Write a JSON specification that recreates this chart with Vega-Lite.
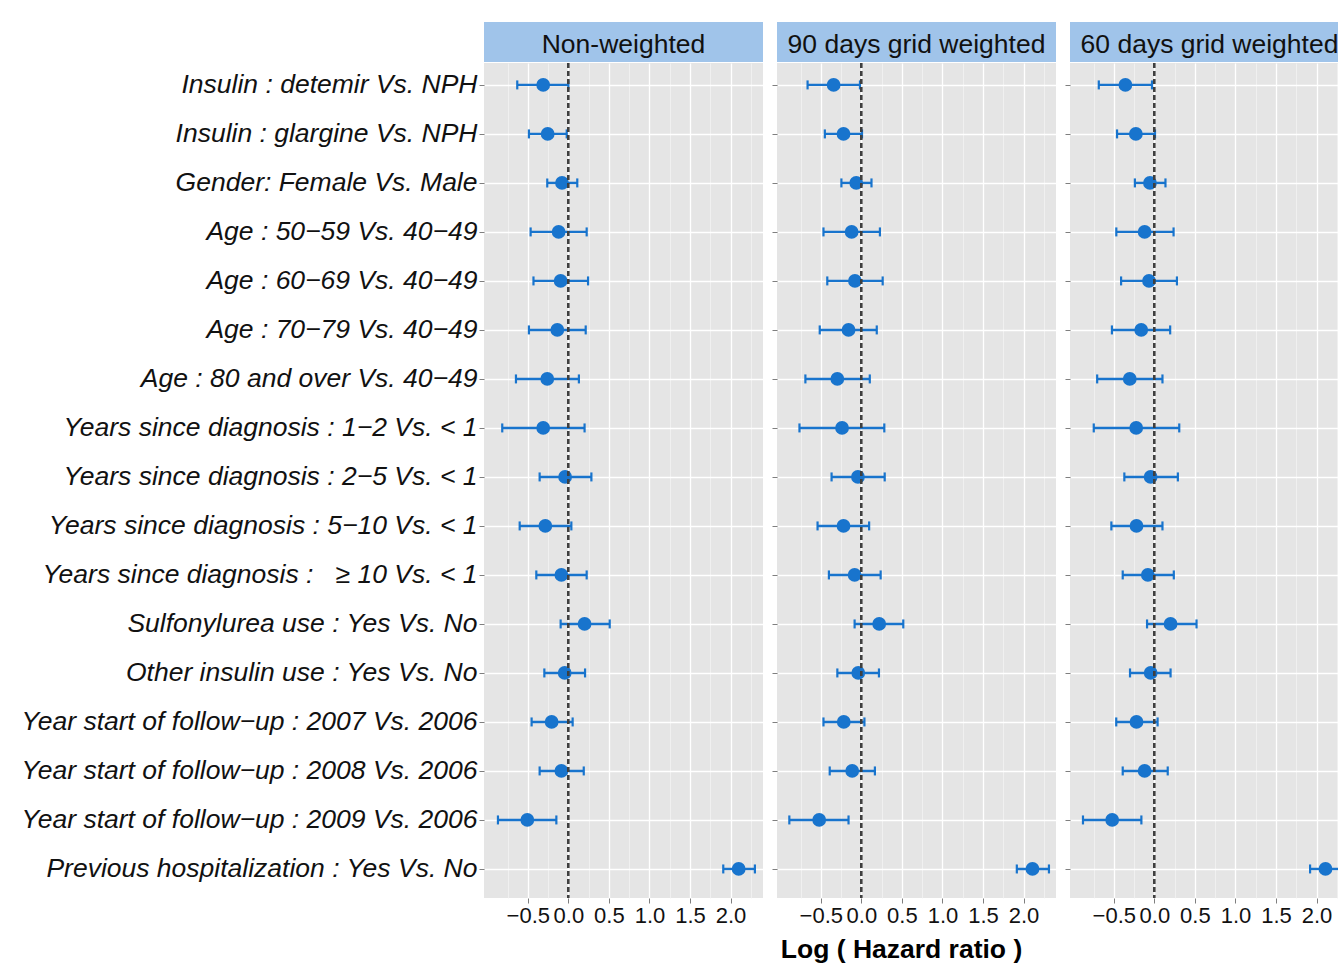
{
  "$schema": "https://vega.github.io/schema/vega-lite/v6.json",
  "padding": {"left": 21, "top": 22, "right": 0, "bottom": 0},
  "background": "#FFFFFF",
  "config": {"view": {"fill": "#E5E5E5", "stroke": null}},
  "datasets": {
    "panels": [{"panel": "Non-weighted"}, {"panel": "90 days grid weighted"}, {"panel": "60 days grid weighted"}],
    "est": [
      {"panel": "Non-weighted", "label": "Insulin : detemir Vs. NPH", "est": -0.31, "lo": -0.63, "hi": 0.0},
      {"panel": "Non-weighted", "label": "Insulin : glargine Vs. NPH", "est": -0.255, "lo": -0.486, "hi": -0.02},
      {"panel": "Non-weighted", "label": "Gender: Female Vs. Male", "est": -0.078, "lo": -0.26, "hi": 0.11},
      {"panel": "Non-weighted", "label": "Age : 50−59 Vs. 40−49", "est": -0.12, "lo": -0.465, "hi": 0.226},
      {"panel": "Non-weighted", "label": "Age : 60−69 Vs. 40−49", "est": -0.095, "lo": -0.43, "hi": 0.243},
      {"panel": "Non-weighted", "label": "Age : 70−79 Vs. 40−49", "est": -0.136, "lo": -0.486, "hi": 0.214},
      {"panel": "Non-weighted", "label": "Age : 80 and over Vs. 40−49", "est": -0.26, "lo": -0.646, "hi": 0.13},
      {"panel": "Non-weighted", "label": "Years since diagnosis : 1−2 Vs. < 1", "est": -0.31, "lo": -0.815, "hi": 0.2},
      {"panel": "Non-weighted", "label": "Years since diagnosis : 2−5 Vs. < 1", "est": -0.04, "lo": -0.354, "hi": 0.284},
      {"panel": "Non-weighted", "label": "Years since diagnosis : 5−10 Vs. < 1", "est": -0.284, "lo": -0.6, "hi": 0.037},
      {"panel": "Non-weighted", "label": "Years since diagnosis :\u00a0\u00a0\u00a0≥ 10 Vs. < 1", "est": -0.086, "lo": -0.395, "hi": 0.226},
      {"panel": "Non-weighted", "label": "Sulfonylurea use : Yes Vs. No\u00a0", "est": 0.2, "lo": -0.095, "hi": 0.51},
      {"panel": "Non-weighted", "label": "Other insulin use : Yes Vs. No", "est": -0.045, "lo": -0.296, "hi": 0.206},
      {"panel": "Non-weighted", "label": "Year start of follow−up : 2007 Vs. 2006", "est": -0.206, "lo": -0.453, "hi": 0.053},
      {"panel": "Non-weighted", "label": "Year start of follow−up : 2008 Vs. 2006", "est": -0.086, "lo": -0.354, "hi": 0.19},
      {"panel": "Non-weighted", "label": "Year start of follow−up : 2009 Vs. 2006", "est": -0.506, "lo": -0.868, "hi": -0.148},
      {"panel": "Non-weighted", "label": "Previous hospitalization : Yes Vs. No", "est": 2.1, "lo": 1.91, "hi": 2.3},
      {"panel": "90 days grid weighted", "label": "Insulin : detemir Vs. NPH", "est": -0.342, "lo": -0.663, "hi": -0.017},
      {"panel": "90 days grid weighted", "label": "Insulin : glargine Vs. NPH", "est": -0.22, "lo": -0.45, "hi": 0.008},
      {"panel": "90 days grid weighted", "label": "Gender: Female Vs. Male", "est": -0.063, "lo": -0.246, "hi": 0.125},
      {"panel": "90 days grid weighted", "label": "Age : 50−59 Vs. 40−49", "est": -0.12, "lo": -0.467, "hi": 0.229},
      {"panel": "90 days grid weighted", "label": "Age : 60−69 Vs. 40−49", "est": -0.079, "lo": -0.42, "hi": 0.263},
      {"panel": "90 days grid weighted", "label": "Age : 70−79 Vs. 40−49", "est": -0.158, "lo": -0.513, "hi": 0.19},
      {"panel": "90 days grid weighted", "label": "Age : 80 and over Vs. 40−49", "est": -0.296, "lo": -0.69, "hi": 0.104},
      {"panel": "90 days grid weighted", "label": "Years since diagnosis : 1−2 Vs. < 1", "est": -0.238, "lo": -0.763, "hi": 0.283},
      {"panel": "90 days grid weighted", "label": "Years since diagnosis : 2−5 Vs. < 1", "est": -0.042, "lo": -0.367, "hi": 0.288},
      {"panel": "90 days grid weighted", "label": "Years since diagnosis : 5−10 Vs. < 1", "est": -0.22, "lo": -0.54, "hi": 0.096},
      {"panel": "90 days grid weighted", "label": "Years since diagnosis :\u00a0\u00a0\u00a0≥ 10 Vs. < 1", "est": -0.083, "lo": -0.4, "hi": 0.238},
      {"panel": "90 days grid weighted", "label": "Sulfonylurea use : Yes Vs. No\u00a0", "est": 0.22, "lo": -0.083, "hi": 0.517},
      {"panel": "90 days grid weighted", "label": "Other insulin use : Yes Vs. No", "est": -0.038, "lo": -0.296, "hi": 0.217},
      {"panel": "90 days grid weighted", "label": "Year start of follow−up : 2007 Vs. 2006", "est": -0.217, "lo": -0.467, "hi": 0.038},
      {"panel": "90 days grid weighted", "label": "Year start of follow−up : 2008 Vs. 2006", "est": -0.113, "lo": -0.39, "hi": 0.167},
      {"panel": "90 days grid weighted", "label": "Year start of follow−up : 2009 Vs. 2006", "est": -0.52, "lo": -0.888, "hi": -0.158},
      {"panel": "90 days grid weighted", "label": "Previous hospitalization : Yes Vs. No", "est": 2.11, "lo": 1.917, "hi": 2.313},
      {"panel": "60 days grid weighted", "label": "Insulin : detemir Vs. NPH", "est": -0.357, "lo": -0.685, "hi": -0.029},
      {"panel": "60 days grid weighted", "label": "Insulin : glargine Vs. NPH", "est": -0.228, "lo": -0.46, "hi": 0.008},
      {"panel": "60 days grid weighted", "label": "Gender: Female Vs. Male", "est": -0.054, "lo": -0.24, "hi": 0.137},
      {"panel": "60 days grid weighted", "label": "Age : 50−59 Vs. 40−49", "est": -0.12, "lo": -0.469, "hi": 0.237},
      {"panel": "60 days grid weighted", "label": "Age : 60−69 Vs. 40−49", "est": -0.066, "lo": -0.41, "hi": 0.278},
      {"panel": "60 days grid weighted", "label": "Age : 70−79 Vs. 40−49", "est": -0.162, "lo": -0.523, "hi": 0.195},
      {"panel": "60 days grid weighted", "label": "Age : 80 and over Vs. 40−49", "est": -0.303, "lo": -0.705, "hi": 0.1},
      {"panel": "60 days grid weighted", "label": "Years since diagnosis : 1−2 Vs. < 1", "est": -0.224, "lo": -0.747, "hi": 0.307},
      {"panel": "60 days grid weighted", "label": "Years since diagnosis : 2−5 Vs. < 1", "est": -0.046, "lo": -0.37, "hi": 0.29},
      {"panel": "60 days grid weighted", "label": "Years since diagnosis : 5−10 Vs. < 1", "est": -0.22, "lo": -0.53, "hi": 0.1},
      {"panel": "60 days grid weighted", "label": "Years since diagnosis :\u00a0\u00a0\u00a0≥ 10 Vs. < 1", "est": -0.08, "lo": -0.39, "hi": 0.24},
      {"panel": "60 days grid weighted", "label": "Sulfonylurea use : Yes Vs. No\u00a0", "est": 0.2, "lo": -0.09, "hi": 0.52},
      {"panel": "60 days grid weighted", "label": "Other insulin use : Yes Vs. No", "est": -0.045, "lo": -0.3, "hi": 0.2},
      {"panel": "60 days grid weighted", "label": "Year start of follow−up : 2007 Vs. 2006", "est": -0.22, "lo": -0.47, "hi": 0.04},
      {"panel": "60 days grid weighted", "label": "Year start of follow−up : 2008 Vs. 2006", "est": -0.12, "lo": -0.39, "hi": 0.165},
      {"panel": "60 days grid weighted", "label": "Year start of follow−up : 2009 Vs. 2006", "est": -0.52, "lo": -0.88, "hi": -0.16},
      {"panel": "60 days grid weighted", "label": "Previous hospitalization : Yes Vs. No", "est": 2.11, "lo": 1.92, "hi": 2.31}
    ]
  },
  "columns": 3,
  "spacing": {"row": 1, "column": 14},
  "bounds": "flush",
  "concat": [
    {
      "width": 279, "height": 40,
      "data": {"name": "panels"},
      "transform": [{"filter": "datum.panel === 'Non-weighted'"}],
      "encoding": {"x": {"field": "panel", "type": "nominal", "axis": null, "scale": {"paddingInner": 0, "paddingOuter": 0}}},
      "layer": [
        {"mark": {"type": "bar", "color": "#A0C4EA"}},
        {"mark": {"type": "text", "font": "Liberation Sans", "fontSize": 26.5, "color": "#111111", "dy": 3}, "encoding": {"text": {"field": "panel"}}}
      ]
    },
    {
      "width": 279, "height": 40,
      "data": {"name": "panels"},
      "transform": [{"filter": "datum.panel === '90 days grid weighted'"}],
      "encoding": {"x": {"field": "panel", "type": "nominal", "axis": null, "scale": {"paddingInner": 0, "paddingOuter": 0}}},
      "layer": [
        {"mark": {"type": "bar", "color": "#A0C4EA"}},
        {"mark": {"type": "text", "font": "Liberation Sans", "fontSize": 26.5, "color": "#111111", "dy": 3}, "encoding": {"text": {"field": "panel"}}}
      ]
    },
    {
      "width": 279, "height": 40,
      "data": {"name": "panels"},
      "transform": [{"filter": "datum.panel === '60 days grid weighted'"}],
      "encoding": {"x": {"field": "panel", "type": "nominal", "axis": null, "scale": {"paddingInner": 0, "paddingOuter": 0}}},
      "layer": [
        {"mark": {"type": "bar", "color": "#A0C4EA"}},
        {"mark": {"type": "text", "font": "Liberation Sans", "fontSize": 26.5, "color": "#111111", "dy": 3}, "encoding": {"text": {"field": "panel"}}}
      ]
    },
    {
      "width": 279, "height": 835,
      "data": {"name": "est"},
      "transform": [{"filter": "datum.panel === 'Non-weighted'"}],
      "layer": [
        {"mark": {"type": "rule", "color": "#1874CD", "strokeWidth": 2.4},
         "encoding": {
           "y": {"field": "label", "type": "nominal", "sort": null, "scale": {"type": "point", "padding": 0.52, "align": 0.43},
             "axis": {"title": null, "domain": false, "ticks": true, "tickColor": "#7F7F7F", "tickSize": 5, "tickWidth": 1, "labels": true, "labelFont": "Liberation Sans", "labelFontStyle": "italic", "labelFontSize": 26.5, "labelColor": "#111111", "labelPadding": 2, "labelLimit": 0, "grid": true, "gridColor": "#FFFFFF", "gridWidth": 1.3}},
           "x": {"field": "lo", "type": "quantitative", "scale": {"domain": [-1.04, 2.4], "nice": false, "zero": false},
             "axis": {"orient": "bottom", "values": [-0.5, 0, 0.5, 1, 1.5, 2], "format": ".1f", "title": null, "domain": false, "tickColor": "#7F7F7F", "tickSize": 5, "labelFont": "Liberation Sans", "labelFontSize": 22, "labelColor": "#111111", "labelPadding": 2, "labelOverlap": false, "labelFlush": false, "grid": true, "gridColor": "#FFFFFF", "gridWidth": 1.3}},
           "x2": {"field": "hi"}}},
        {"mark": {"type": "tick", "color": "#1874CD", "size": 9, "thickness": 2.2, "opacity": 1},
         "encoding": {"y": {"field": "label", "type": "nominal", "sort": null}, "x": {"field": "lo", "type": "quantitative", "axis": null}}},
        {"mark": {"type": "tick", "color": "#1874CD", "size": 9, "thickness": 2.2, "opacity": 1},
         "encoding": {"y": {"field": "label", "type": "nominal", "sort": null}, "x": {"field": "hi", "type": "quantitative", "axis": null}}},
        {"mark": {"type": "circle", "color": "#1874CD", "size": 190, "opacity": 1},
         "encoding": {"y": {"field": "label", "type": "nominal", "sort": null}, "x": {"field": "est", "type": "quantitative", "axis": null}}},
        {"mark": {"type": "rule", "color": "#404040", "strokeWidth": 1.4, "strokeDash": [5, 3]},
         "encoding": {"x": {"datum": 0, "type": "quantitative",
           "axis": {"orient": "bottom", "values": [-0.75, -0.25, 0.25, 0.75, 1.25, 1.75, 2.25], "labels": false, "ticks": false, "domain": false, "title": null, "grid": true, "gridColor": "#F2F2F2", "gridWidth": 0.8}}}}
      ],
      "resolve": {"axis": {"x": "independent"}}
    },
    {
      "width": 279, "height": 835,
      "data": {"name": "est"},
      "transform": [{"filter": "datum.panel === '90 days grid weighted'"}],
      "layer": [
        {"mark": {"type": "rule", "color": "#1874CD", "strokeWidth": 2.4},
         "encoding": {
           "y": {"field": "label", "type": "nominal", "sort": null, "scale": {"type": "point", "padding": 0.52, "align": 0.43},
             "axis": {"title": null, "domain": false, "ticks": true, "tickColor": "#7F7F7F", "tickSize": 5, "tickWidth": 1, "labels": false, "grid": true, "gridColor": "#FFFFFF", "gridWidth": 1.3}},
           "x": {"field": "lo", "type": "quantitative", "scale": {"domain": [-1.04, 2.4], "nice": false, "zero": false},
             "axis": {"orient": "bottom", "values": [-0.5, 0, 0.5, 1, 1.5, 2], "format": ".1f", "title": "Log ( Hazard ratio )", "titleX": 124, "titleFont": "Liberation Sans", "titleFontWeight": "bold", "titleFontSize": 26.5, "titleColor": "#000000", "titlePadding": 10, "domain": false, "tickColor": "#7F7F7F", "tickSize": 5, "labelFont": "Liberation Sans", "labelFontSize": 22, "labelColor": "#111111", "labelPadding": 2, "labelOverlap": false, "labelFlush": false, "grid": true, "gridColor": "#FFFFFF", "gridWidth": 1.3}},
           "x2": {"field": "hi"}}},
        {"mark": {"type": "tick", "color": "#1874CD", "size": 9, "thickness": 2.2, "opacity": 1},
         "encoding": {"y": {"field": "label", "type": "nominal", "sort": null}, "x": {"field": "lo", "type": "quantitative", "axis": null}}},
        {"mark": {"type": "tick", "color": "#1874CD", "size": 9, "thickness": 2.2, "opacity": 1},
         "encoding": {"y": {"field": "label", "type": "nominal", "sort": null}, "x": {"field": "hi", "type": "quantitative", "axis": null}}},
        {"mark": {"type": "circle", "color": "#1874CD", "size": 190, "opacity": 1},
         "encoding": {"y": {"field": "label", "type": "nominal", "sort": null}, "x": {"field": "est", "type": "quantitative", "axis": null}}},
        {"mark": {"type": "rule", "color": "#404040", "strokeWidth": 1.4, "strokeDash": [5, 3]},
         "encoding": {"x": {"datum": 0, "type": "quantitative",
           "axis": {"orient": "bottom", "values": [-0.75, -0.25, 0.25, 0.75, 1.25, 1.75, 2.25], "labels": false, "ticks": false, "domain": false, "title": null, "grid": true, "gridColor": "#F2F2F2", "gridWidth": 0.8}}}}
      ],
      "resolve": {"axis": {"x": "independent"}}
    },
    {
      "width": 279, "height": 835,
      "data": {"name": "est"},
      "transform": [{"filter": "datum.panel === '60 days grid weighted'"}],
      "layer": [
        {"mark": {"type": "rule", "color": "#1874CD", "strokeWidth": 2.4},
         "encoding": {
           "y": {"field": "label", "type": "nominal", "sort": null, "scale": {"type": "point", "padding": 0.52, "align": 0.43},
             "axis": {"title": null, "domain": false, "ticks": true, "tickColor": "#7F7F7F", "tickSize": 5, "tickWidth": 1, "labels": false, "grid": true, "gridColor": "#FFFFFF", "gridWidth": 1.3}},
           "x": {"field": "lo", "type": "quantitative", "scale": {"domain": [-1.04, 2.4], "nice": false, "zero": false},
             "axis": {"orient": "bottom", "values": [-0.5, 0, 0.5, 1, 1.5, 2], "format": ".1f", "title": null, "domain": false, "tickColor": "#7F7F7F", "tickSize": 5, "labelFont": "Liberation Sans", "labelFontSize": 22, "labelColor": "#111111", "labelPadding": 2, "labelOverlap": false, "labelFlush": false, "grid": true, "gridColor": "#FFFFFF", "gridWidth": 1.3}},
           "x2": {"field": "hi"}}},
        {"mark": {"type": "tick", "color": "#1874CD", "size": 9, "thickness": 2.2, "opacity": 1},
         "encoding": {"y": {"field": "label", "type": "nominal", "sort": null}, "x": {"field": "lo", "type": "quantitative", "axis": null}}},
        {"mark": {"type": "tick", "color": "#1874CD", "size": 9, "thickness": 2.2, "opacity": 1},
         "encoding": {"y": {"field": "label", "type": "nominal", "sort": null}, "x": {"field": "hi", "type": "quantitative", "axis": null}}},
        {"mark": {"type": "circle", "color": "#1874CD", "size": 190, "opacity": 1},
         "encoding": {"y": {"field": "label", "type": "nominal", "sort": null}, "x": {"field": "est", "type": "quantitative", "axis": null}}},
        {"mark": {"type": "rule", "color": "#404040", "strokeWidth": 1.4, "strokeDash": [5, 3]},
         "encoding": {"x": {"datum": 0, "type": "quantitative",
           "axis": {"orient": "bottom", "values": [-0.75, -0.25, 0.25, 0.75, 1.25, 1.75, 2.25], "labels": false, "ticks": false, "domain": false, "title": null, "grid": true, "gridColor": "#F2F2F2", "gridWidth": 0.8}}}}
      ],
      "resolve": {"axis": {"x": "independent"}}
    }
  ]
}
